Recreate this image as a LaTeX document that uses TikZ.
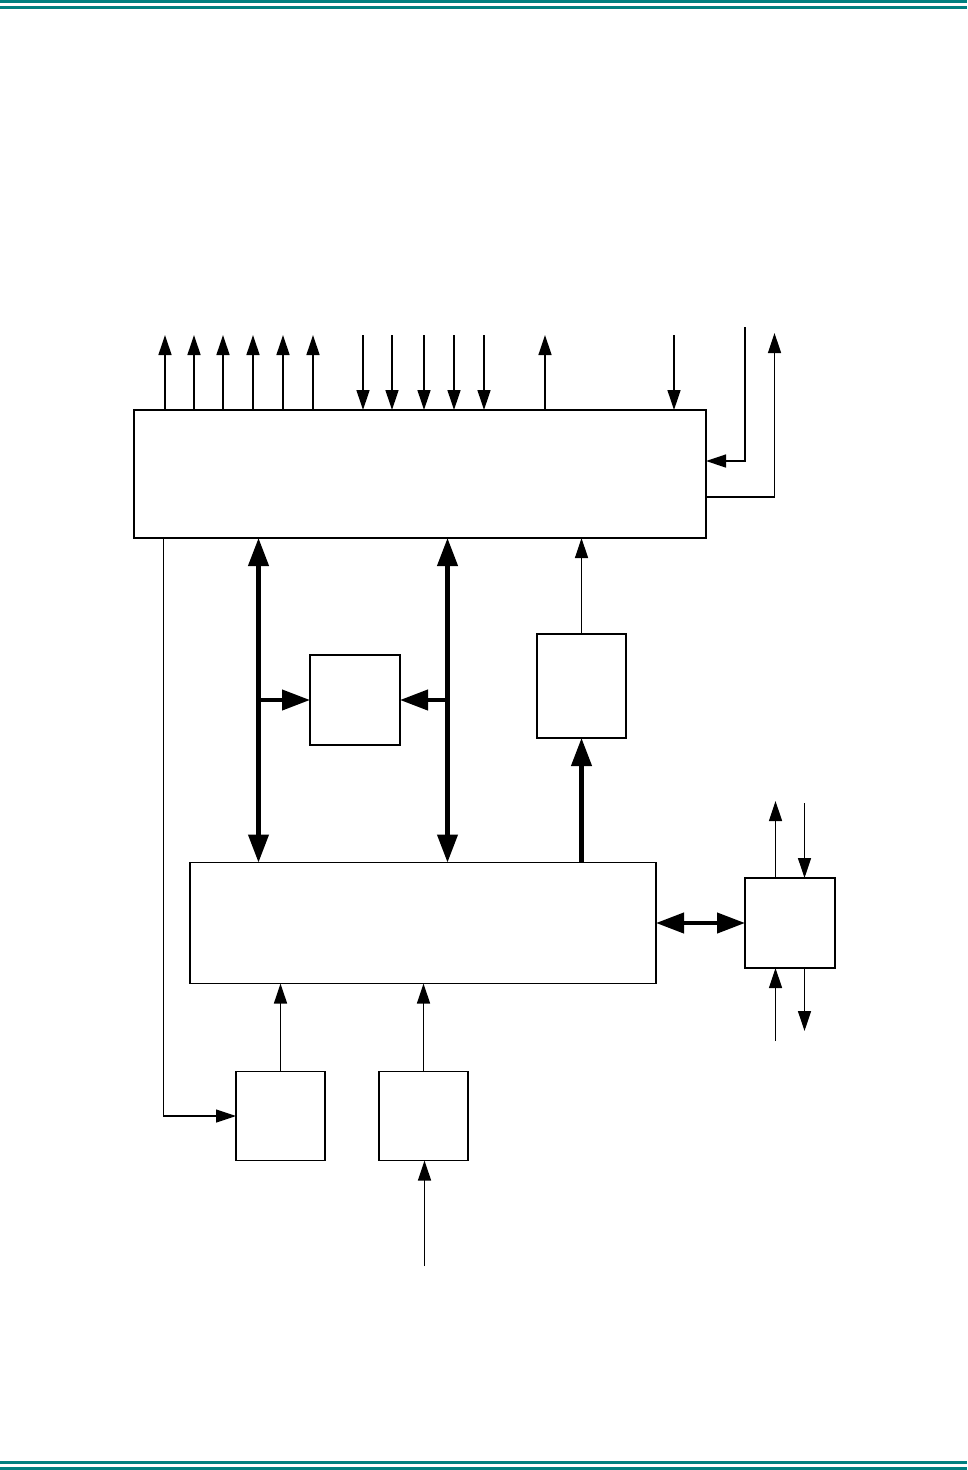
\documentclass[tikz,border=0pt]{standalone}
\usepackage{tikz}
\usetikzlibrary{arrows.meta,positioning,calc}
\definecolor{rule}{RGB}{0,128,128}
\tikzset{
  blk/.style={draw=black, line width=1.5pt, minimum width=#1, minimum height=#1, inner sep=0pt, outer sep=0pt},
  sig/.style={-{Triangle[length=20pt,width=13pt]}, line width=1.3pt},
  bus/.style={-{Triangle[length=28pt,width=20pt]}, line width=4.2pt},
  dbus/.style={{Triangle[length=28pt,width=20pt]}-{Triangle[length=28pt,width=20pt]}, line width=4.2pt},
  hrule/.style={draw=rule, line width=3pt},
}
\begin{document}
\begin{tikzpicture}[x=1pt,y=-1pt]
      \useasboundingbox (0,0) rectangle (967,1470);
      % page rules
      \draw[hrule] (0,1.5) -- (967,1.5);
      \draw[hrule] (0,7.5) -- (967,7.5);
      \draw[hrule] (0,1462.5) -- (967,1462.5);
      \draw[hrule] (0,1468.5) -- (967,1468.5);

      % blocks
      \node[blk, minimum width=572pt, minimum height=128pt] (ctrl) at (420,474) {};
      \node[blk=90pt] (buf) at (355,700) {};
      \node[blk, minimum width=89pt, minimum height=104pt] (conv) at (581.5,686) {};
      \node[blk, minimum width=466pt, minimum height=121pt] (core) at (423,923) {};
      \node[blk=90pt] (io) at (790,923) {};
      \node[blk=89pt] (boxa) at (280.5,1116) {};
      \node[blk=89pt] (boxb) at (423.5,1116) {};

      % top outputs and inputs
      \foreach \x in {165,194,223,253,283,313,545}{
        \coordinate (t) at (\x,335);
        \draw[sig] (ctrl.north -| t) -- (t);
      }
      \foreach \x in {363,392,424,454,484,674}{
        \coordinate (t) at (\x,335);
        \draw[sig] (t) -- (ctrl.north -| t);
      }

      % right side loop
      \coordinate (inA) at (745,327);
      \coordinate (inAbend) at (745,461);
      \draw[sig] (inA) -- (inAbend) -- (ctrl.east |- inAbend);
      \coordinate (outA) at (774.5,333);
      \coordinate (outAbend) at (774.5,497);
      \draw[sig] (ctrl.east |- outAbend) -- (outAbend) -- (outA);

      % buses
      \coordinate (bus1) at (258.5,700);
      \coordinate (bus2) at (447.5,700);
      \draw[dbus] (ctrl.south -| bus1) -- (core.north -| bus1);
      \draw[dbus] (ctrl.south -| bus2) -- (core.north -| bus2);
      \draw[bus] (bus1 |- buf.west) -- (buf.west);
      \draw[bus] (bus2 |- buf.east) -- (buf.east);
      \draw[sig] (conv.north) -- (ctrl.south -| conv.north);
      \draw[bus] (core.north -| conv.south) -- (conv.south);
      \draw[dbus] (core.east) -- (io.west);

      % io block signals
      \coordinate (ioA) at (775.5,801);
      \coordinate (ioB) at (804.5,803);
      \coordinate (ioC) at (775.5,1041);
      \coordinate (ioD) at (804.5,1031);
      \draw[sig] (io.north -| ioA) -- (ioA);
      \draw[sig] (ioB) -- (io.north -| ioB);
      \draw[sig] (ioC) -- (io.south -| ioC);
      \draw[sig] (io.south -| ioD) -- (ioD);

      % lower blocks
      \coordinate (lp) at (163.5,1116);
      \draw[sig] (ctrl.south -| lp) -- (lp) -- (boxa.west);
      \draw[sig] (boxa.north) -- (core.south -| boxa.north);
      \draw[sig] (boxb.north) -- (core.south -| boxb.north);
      \coordinate (inB) at (424.5,1266);
      \draw[sig] (inB) -- (boxb.south -| inB);
    \end{tikzpicture}
\end{document}
